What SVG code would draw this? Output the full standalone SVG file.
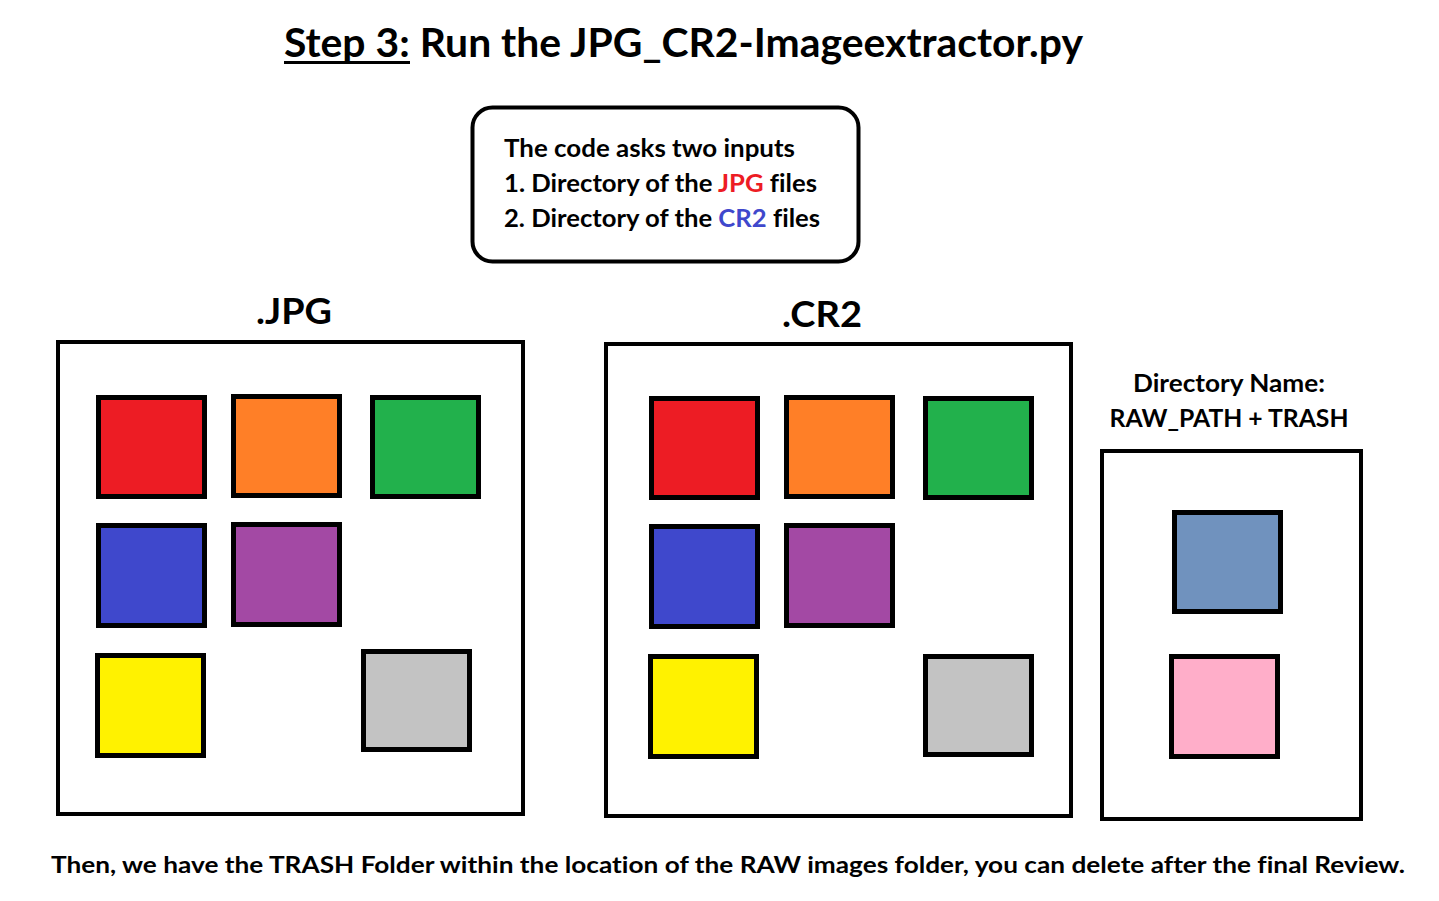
<svg xmlns="http://www.w3.org/2000/svg" width="1439" height="901" viewBox="0 0 1439 901">
<style>
  text { font-family: Lato, "Open Sans", "Liberation Sans", sans-serif; font-weight: bold; fill: #000; font-variant-ligatures: none; font-feature-settings: "liga" 0; }
  .frame { fill: #fff; stroke: #000; stroke-width: 4; }
  .sq { stroke: #000; stroke-width: 5; }
  .red { fill: #ED1C24; } .orange { fill: #FF7F27; } .green { fill: #22B14C; }
  .blue { fill: #3F48CC; } .purple { fill: #A349A4; } .yellow { fill: #FFF200; }
  .gray { fill: #C3C3C3; } .steel { fill: #7092BE; } .pink { fill: #FFAEC9; }
  .body { font-size: 24px; }
</style>
<rect width="1439" height="901" fill="#fff"/>
<g id="title">
  <text x="284" y="57" font-size="41" textLength="799" lengthAdjust="spacingAndGlyphs">Step 3: Run the JPG_CR2-Imageextractor.py</text>
  <rect x="284" y="61" width="126" height="3" fill="#000"/>
</g>
<g id="info-box">
  <rect x="472.5" y="107.5" width="386" height="154" rx="20" ry="20" class="frame"/>
  <text class="body" x="504" y="157" textLength="291" lengthAdjust="spacingAndGlyphs">The code asks two inputs</text>
  <text class="body" x="504" y="192" textLength="313" lengthAdjust="spacingAndGlyphs">1. Directory of the <tspan fill="#ED1C24">JPG</tspan> files</text>
  <text class="body" x="504" y="227" textLength="316" lengthAdjust="spacingAndGlyphs">2. Directory of the <tspan fill="#3F48CC">CR2</tspan> files</text>
</g>
<g id="jpg-folder">
  <text x="294" y="324" font-size="36" text-anchor="middle" textLength="76" lengthAdjust="spacingAndGlyphs">.JPG</text>
  <rect x="58" y="342" width="465" height="472" class="frame"/>
  <rect x="98.5" y="397.5" width="106" height="99" class="sq red"/>
  <rect x="233.5" y="396.5" width="106" height="99" class="sq orange"/>
  <rect x="372.5" y="397.5" width="106" height="99" class="sq green"/>
  <rect x="98.5" y="525.5" width="106" height="100" class="sq blue"/>
  <rect x="233.5" y="524.5" width="106" height="100" class="sq purple"/>
  <rect x="97.5" y="655.5" width="106" height="100" class="sq yellow"/>
  <rect x="363.5" y="651.5" width="106" height="98" class="sq gray"/>
</g>
<g id="cr2-folder">
  <text x="822" y="327" font-size="36" text-anchor="middle" textLength="80" lengthAdjust="spacingAndGlyphs">.CR2</text>
  <rect x="606" y="344" width="465" height="472" class="frame"/>
  <rect x="651.5" y="398.5" width="106" height="99" class="sq red"/>
  <rect x="786.5" y="397.5" width="106" height="99" class="sq orange"/>
  <rect x="925.5" y="398.5" width="106" height="99" class="sq green"/>
  <rect x="651.5" y="526.5" width="106" height="100" class="sq blue"/>
  <rect x="786.5" y="525.5" width="106" height="100" class="sq purple"/>
  <rect x="650.5" y="656.5" width="106" height="100" class="sq yellow"/>
  <rect x="925.5" y="656.5" width="106" height="98" class="sq gray"/>
</g>
<g id="trash-folder">
  <text x="1229" y="392" font-size="24" text-anchor="middle" textLength="192" lengthAdjust="spacingAndGlyphs">Directory Name:</text>
  <text x="1229" y="427" font-size="24" text-anchor="middle" textLength="239" lengthAdjust="spacingAndGlyphs">RAW_PATH + TRASH</text>
  <rect x="1102" y="451" width="259" height="368" class="frame"/>
  <rect x="1174.5" y="512.5" width="106" height="99" class="sq steel"/>
  <rect x="1171.5" y="656.5" width="106" height="100" class="sq pink"/>
</g>
<g id="footer">
  <text x="51" y="873" font-size="23" textLength="1354" lengthAdjust="spacingAndGlyphs">Then, we have the TRASH Folder within the location of the RAW images folder, you can delete after the final Review.</text>
</g>
<g id="connectors"/>
</svg>
